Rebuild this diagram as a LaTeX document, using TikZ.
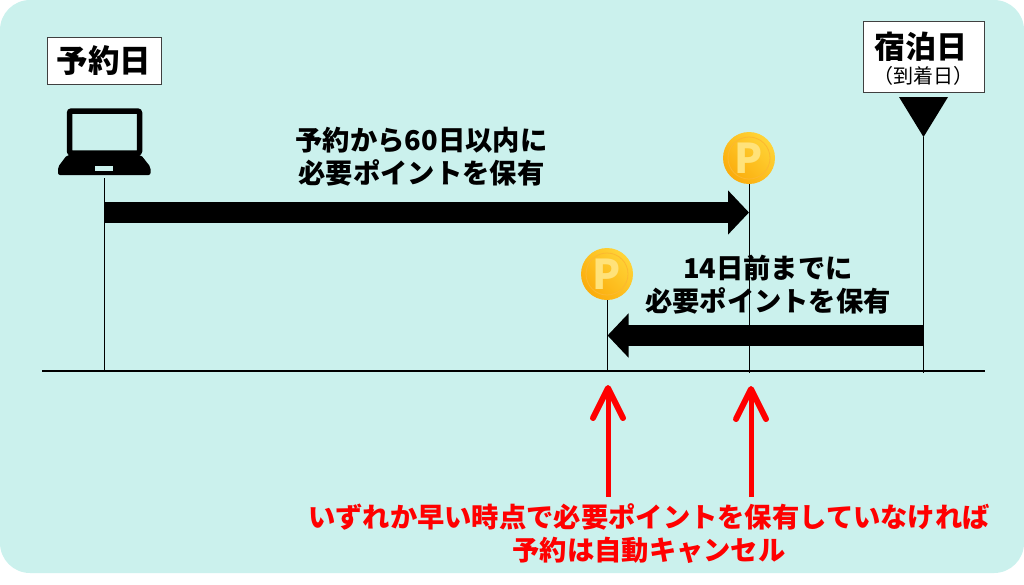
\documentclass[tikz,border=0pt]{standalone}
\usepackage{fontspec}
\setmainfont{Noto Sans CJK JP}
\usetikzlibrary{arrows.meta}
\definecolor{panelbg}{HTML}{CBF1ED}
\definecolor{coinlight}{HTML}{FFD437}
\definecolor{coindark}{HTML}{FBAC0C}
\definecolor{coinmark}{HTML}{FFE27A}
\tikzset{
	datebox/.style={draw=black!75, fill=white, line width=1pt, inner sep=0pt, align=center},
	thinline/.style={draw=black, line width=1pt},
	bigarrow/.style={draw=black, line width=21pt, -{Triangle[length=21pt,width=43pt]}},
	redarrow/.style={draw=red, line width=5pt, -{Straight Barb[length=30pt,width=30pt,line width=6pt,round]}},
	caption/.style={font=\fontsize{27.3}{33}\selectfont\bfseries, align=center},
	coin/.style={circle, minimum size=52pt, inner sep=0pt, left color=coinlight, right color=coindark, shading angle=-45, text=coinmark, font=\fontsize{41}{41}\selectfont\bfseries},
	coinring/.style={draw=coindark!85!white, line width=0.8pt}
}
\begin{document}
\begin{tikzpicture}[x=1pt,y=-1pt]
	\useasboundingbox (0,0) rectangle (1024,584);
	\fill [panelbg, rounded corners=30pt] (0,0) rectangle (1024,573);

	% time line and its marks
	\coordinate (lineL) at (42,371);
	\coordinate (lineR) at (985,371);
	\coordinate (bookTop) at (104,178);
	\coordinate (bookEnd) at (104,371);
	\coordinate (stayTop) at (923.5,137);
	\coordinate (stayEnd) at (923.5,373);
	\coordinate (dayEnd) at (749,373);
	\coordinate (weekEnd) at (607.5,371);
	\draw [black, line width=2pt] (lineL) -- (lineR);
	\draw [thinline] (bookTop) -- (bookEnd);
	\draw [thinline] (stayTop) -- (stayEnd);

	% laptop
	\draw [black, line width=5.5pt, rounded corners=2pt] (69.5,111) rectangle (139.5,153);
	\fill [black, rounded corners=2pt] (67,155) -- (141,155) -- (150.5,167) -- (150.5,175) -- (58,175) -- (58,167) -- cycle;
	\fill [panelbg] (95,166) rectangle (113,171);

	% labels
	\node [datebox, minimum width=114pt, minimum height=47pt] (bookDate) at (104,60.5) {\fontsize{31.5}{31.5}\selectfont\bfseries 予約日};
	\node [datebox, minimum width=121pt, minimum height=71pt] (stayDate) at (923.5,56.5) {\rule{0pt}{31pt}\hspace*{-6pt}\fontsize{31}{36}\selectfont\bfseries 宿泊日\\[4pt]\fontsize{20}{22}\selectfont（到着日）\hspace*{1pt}};
	\fill [black] (899,97) -- (948,97) -- (stayTop) -- cycle;

	% coins
	\node [coin] (coinDay) at (749,158) {P};
	\node [coin] (coinWeek) at (607,274) {P};
	\draw [coinring] (coinDay) circle (21);
	\draw [coinring] (coinWeek) circle (21);
	\draw [thinline] (coinDay) ++(0,26) -- (dayEnd);
	\draw [thinline] (coinWeek) ++(0.5,26) -- (weekEnd);

	% periods
	\coordinate (dayFrom) at (104,212.5);
	\coordinate (dayTo) at (749,212.5);
	\coordinate (weekFrom) at (923,335.5);
	\coordinate (weekTo) at (607.5,335.5);
	\draw [bigarrow] (dayFrom) -- (dayTo);
	\draw [bigarrow] (weekFrom) -- (weekTo);
	\node [caption] (dayText) at (421.5,157) {予約から60日以内に\\必要ポイントを保有};
	\node [caption] (weekText) at (768,285) {14日前までに\\必要ポイントを保有};

	% red notes
	\node [caption, text=red] (redText) at (649,533.5) {いずれか早い時点で必要ポイントを保有していなければ\\予約は自動キャンセル};
	\coordinate (redA) at (608,497);
	\coordinate (redAtip) at (608,385);
	\coordinate (redB) at (751,497);
	\coordinate (redBtip) at (751,386);
	\draw [redarrow] (redA) -- (redAtip);
	\draw [redarrow] (redB) -- (redBtip);
\end{tikzpicture}
\end{document}
